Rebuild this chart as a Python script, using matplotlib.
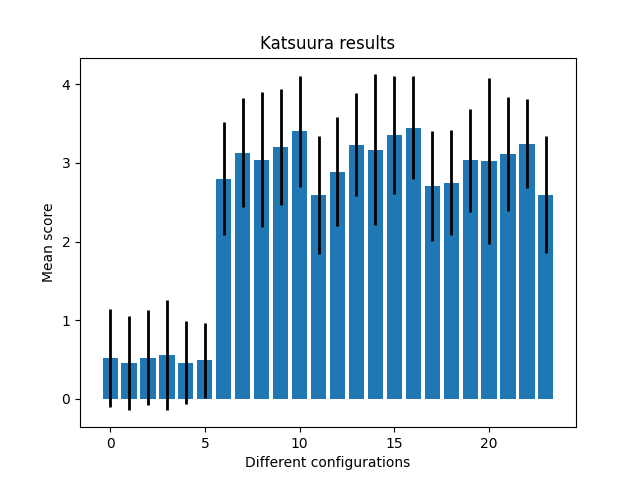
import numpy as np
import matplotlib
matplotlib.use("Agg")
import matplotlib.pyplot as plt

# valeurs
configs = list(range(24))
means = [0.52, 0.455, 0.525, 0.555, 0.46, 0.49,
         2.80, 3.13, 3.04, 3.20, 3.405, 2.59,
         2.89, 3.23, 3.165, 3.36, 3.445, 2.71,
         2.75, 3.035, 3.025, 3.115, 3.245, 2.595]
errors = [0.62, 0.60, 0.60, 0.70, 0.53, 0.475,
          0.72, 0.69, 0.86, 0.74, 0.705, 0.75,
          0.69, 0.655, 0.96, 0.75, 0.655, 0.70,
          0.67, 0.655, 1.05, 0.72, 0.565, 0.745]

fig, ax = plt.subplots(figsize=(6.4, 4.8), dpi=100)
ax.bar(configs, means, yerr=errors, error_kw={"elinewidth": 2, "ecolor": "black"})
ax.set_title("Katsuura results")
ax.set_xlabel("Different configurations")
ax.set_ylabel("Mean score")
fig.savefig("out.png")
